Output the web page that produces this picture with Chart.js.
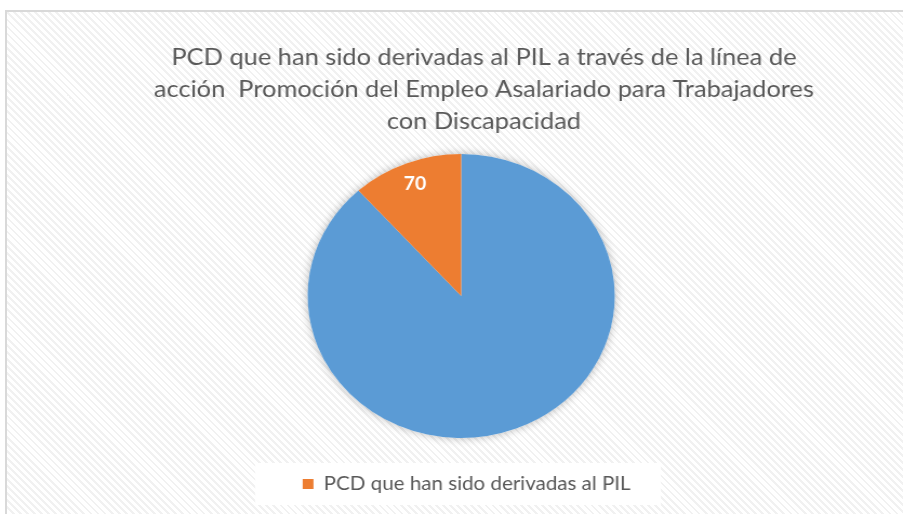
<!DOCTYPE html>
<html lang="es">
<head>
<meta charset="utf-8">
<title>PCD derivadas al PIL</title>
<script src="https://cdn.jsdelivr.net/npm/chart.js@4.4.1/dist/chart.umd.min.js"></script>
<style>
  html, body { margin: 0; padding: 0; background: #fff; overflow: hidden; }
  body { width: 903px; height: 514px; position: relative; }
  /* marco del grafico con fondo rayado */
  .marco {
    position: absolute; left: 5px; top: 10px; width: 1000px; height: 600px;
    border: 2px solid #d9d9d9;
    background: repeating-linear-gradient(45deg, #ffffff 0 3px, #f1f1f1 3px 5px);
  }
  /* el original esta estirado horizontalmente */
  .lienzo {
    position: absolute; left: 0; top: 0; width: 835px; height: 514px;
    transform: scaleX(1.0814); transform-origin: 0 0;
  }
</style>
</head>
<body>
<div class="marco"></div>
<div class="lienzo"><canvas id="graficaPie"></canvas></div>
<script>
// DATOS DEL GRAFICO
const categorias = ['Total PCD', 'PCD que han sido derivadas al PIL'];
const valores = [530, 70];
const colores = ['#5B9BD5', '#ED7D31'];
const etiquetasVisibles = [false, true];
const tituloLineas = [
  'PCD que han sido derivadas al PIL a través de la línea de',
  'acción  Promoción del Empleo Asalariado para Trabajadores',
  'con Discapacidad'
];

const fuente = 'Lato, "Open Sans", sans-serif';
const grisTexto = '#595959';

// PLUGIN: ajusta titulo y leyenda un poco a la derecha como en el original
const desplazarCajas = {
  id: 'desplazarCajas',
  afterLayout: (chart) => {
    chart.titleBlock.left += 21;
    chart.titleBlock.right += 21;
    chart.legend.left += 5;
    chart.legend.right += 5;
    chart.legend.legendHitBoxes.forEach((hb) => { hb.left += 5; });
  }
};

// PLUGIN: caja blanca detras de la leyenda
const fondoLeyenda = {
  id: 'fondoLeyenda',
  beforeDraw: (chart) => {
    const cajas = chart.legend.legendHitBoxes;
    if (!cajas || !cajas.length) {
      return;
    }
    const hb = cajas[0];
    const ctx = chart.ctx;
    const centroY = hb.top + hb.height / 2;
    ctx.save();
    ctx.fillStyle = '#ffffff';
    ctx.fillRect(hb.left - 44, centroY - 21, hb.width + 72, 42);
    ctx.restore();
  }
};

// PLUGIN: sombra suave y etiqueta de valor
const sombraYEtiquetas = {
  id: 'sombraYEtiquetas',
  beforeDatasetsDraw: (chart) => {
    const arco = chart.getDatasetMeta(0).data[0];
    const ctx = chart.ctx;
    ctx.save();
    ctx.shadowColor = 'rgba(0, 0, 0, 0.28)';
    ctx.shadowBlur = 9;
    ctx.fillStyle = '#ffffff';
    ctx.beginPath();
    ctx.arc(arco.x, arco.y, arco.outerRadius, 0, Math.PI * 2);
    ctx.fill();
    ctx.restore();
  },
  afterDatasetsDraw: (chart) => {
    const ctx = chart.ctx;
    ctx.save();
    ctx.font = 'bold 18px ' + fuente;
    ctx.fillStyle = '#ffffff';
    ctx.textAlign = 'center';
    ctx.textBaseline = 'middle';
    chart.getDatasetMeta(0).data.forEach((arco, i) => {
      if (!etiquetasVisibles[i]) {
        return;
      }
      const medio = (arco.startAngle + arco.endAngle) / 2;
      const r = arco.outerRadius * 0.84;
      ctx.fillText(String(valores[i]), arco.x + Math.cos(medio) * r, arco.y + Math.sin(medio) * r);
    });
    ctx.restore();
  }
};

const config = {
  type: 'pie',
  data: {
    labels: categorias,
    datasets: [{
      data: valores,
      backgroundColor: colores,
      borderWidth: 0,
      hoverOffset: 0
    }]
  },
  options: {
    responsive: true,
    maintainAspectRatio: false,
    animation: false,
    layout: { padding: { top: 0, left: 18, right: 0, bottom: 10.5 } },
    plugins: {
      title: {
        display: true,
        text: tituloLineas,
        color: grisTexto,
        font: { family: fuente, size: 23.5, weight: 'normal', lineHeight: 1.362 },
        padding: { top: 41, bottom: 17 }
      },
      legend: {
        position: 'bottom',
        labels: {
          color: grisTexto,
          font: { family: fuente, size: 19 },
          boxWidth: 10,
          boxHeight: 10,
          padding: 36.5,
          filter: (item) => etiquetasVisibles[item.index]
        }
      },
      tooltip: { enabled: false }
    }
  },
  plugins: [desplazarCajas, fondoLeyenda, sombraYEtiquetas]
};

new Chart(document.getElementById('graficaPie'), config);
</script>
</body>
</html>
